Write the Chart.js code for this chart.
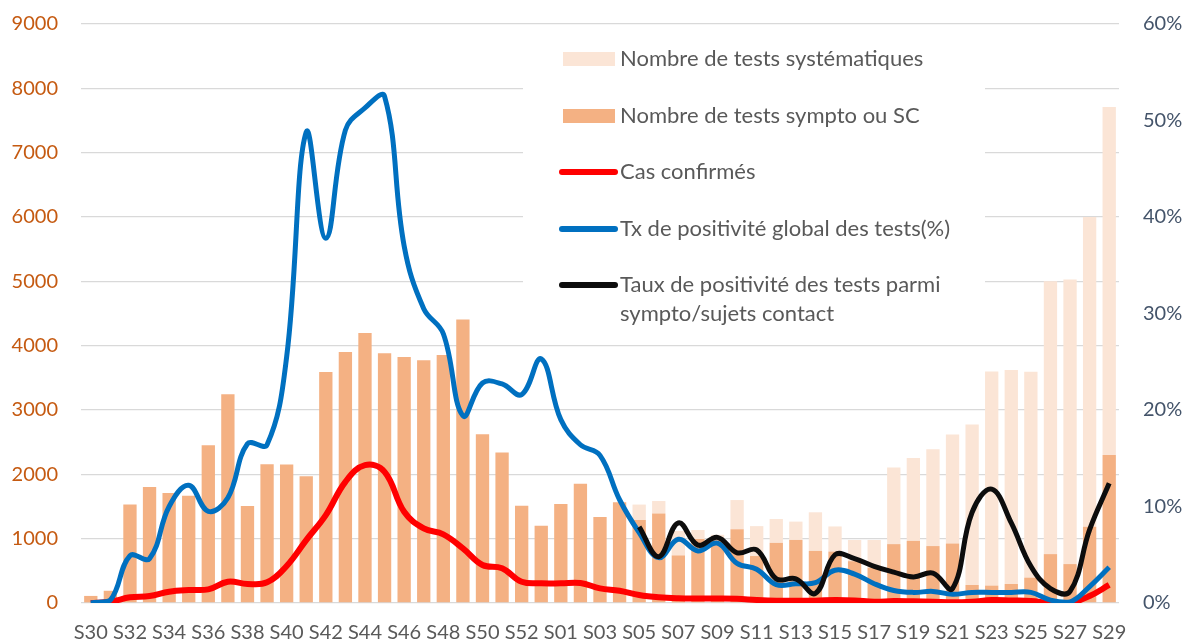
<!DOCTYPE html>
<html><head><meta charset="utf-8">
<script src="https://cdn.jsdelivr.net/npm/chart.js@4.4.1/dist/chart.umd.min.js"></script>
<style>html,body{margin:0;padding:0;background:#fff;overflow:hidden}</style>
</head><body>
<canvas id="c" width="1191" height="644"></canvas>
<script>
const weeks = ['S30','S31','S32','S33','S34','S35','S36','S37','S38','S39','S40','S41','S42','S43','S44','S45','S46','S47','S48','S49','S50','S51','S52','S53',
  'S01','S02','S03','S04','S05','S06','S07','S08','S09','S10','S11','S12','S13','S14','S15','S16','S17','S18','S19','S20','S21','S22','S23','S24','S25','S26','S27','S28','S29'];

const testsSympto = [110,190,1530,1805,1708,1666,2453,3245,1506,2158,2154,1972,3592,3903,4197,3882,3825,3773,3855,4405,2624,2340,1511,1200,
  1537,1853,1335,1568,1290,1390,740,995,1000,1145,730,935,980,810,800,650,550,915,965,885,925,280,270,295,395,760,605,1185,2300];

const testsSystematiques = [0,0,0,0,0,0,0,0,0,0,0,0,0,0,0,0,0,0,0,0,0,0,0,0,
  0,0,0,0,240,195,380,140,60,455,465,370,285,600,390,330,430,1190,1290,1505,1695,2495,3330,3325,3200,4240,4425,4815,5410];

const casConfirmes = [0,20,88,108,176,202,212,331,295,321,575,978,1366,1884,2143,2039,1418,1160,1067,849,590,539,331,306,
  306,311,228,191,124,88,73,70,70,65,47,36,36,36,47,40,20,30,26,20,10,20,47,40,30,0,0,108,280];

const txPositiviteGlobal = [0,0.3,4.9,4.6,10.0,12.2,9.5,10.9,16.5,16.4,25.5,48.8,37.8,49.0,51.3,52.5,37.0,30.5,27.9,19.4,22.8,22.7,21.6,25.3,
  19.0,16.4,15.3,10.7,7.3,4.7,6.6,5.4,6.2,4.1,3.5,1.9,2.0,2.1,3.4,3.0,2.0,1.3,1.1,1.2,0.9,1.1,1.1,1.1,1.1,0.3,0.1,1.7,3.7];

const txPositiviteSympto = [null,null,null,null,null,null,null,null,null,null,null,null,null,null,null,null,null,null,null,null,null,null,null,null,
  null,null,null,null,7.9,4.8,8.3,6.0,6.8,5.2,5.5,2.5,2.5,1.0,5.0,4.6,3.8,3.2,2.7,3.1,1.5,9.4,11.8,8.3,3.8,1.5,1.2,7.6,12.4];

const leftTicksColor = '#C55A11';
const rightTicksColor = '#44546A';
const textColor = '#595959';
const FONT = 'Lato';

const legendPlugin = {
  id: 'customLegend',
  beforeDatasetsDraw(chart) {
    const ctx = chart.ctx;
    ctx.save();
    ctx.fillStyle = '#ffffff';
    ctx.fillRect(523, 33, 462, 302);
    ctx.restore();
  },
  afterDatasetsDraw(chart) {
    const ctx = chart.ctx;
    const ds = chart.data.datasets;
    const rows = [
      {i: 4, kind: 'box', y: 59},
      {i: 3, kind: 'box', y: 116},
      {i: 0, kind: 'line', y: 172},
      {i: 1, kind: 'line', y: 229},
      {i: 2, kind: 'line', y: 285}
    ];
    ctx.save();
    ctx.font = '22px ' + FONT;
    ctx.textBaseline = 'middle';
    ctx.textAlign = 'left';
    rows.forEach(r => {
      const d = ds[r.i];
      if (r.kind === 'box') {
        ctx.fillStyle = d.backgroundColor;
        ctx.fillRect(563, r.y - 7, 52, 14);
      } else {
        ctx.strokeStyle = d.borderColor;
        ctx.lineWidth = 6;
        ctx.lineCap = 'round';
        ctx.beginPath();
        ctx.moveTo(562, r.y);
        ctx.lineTo(615, r.y);
        ctx.stroke();
      }
      ctx.fillStyle = textColor;
      const lines = Array.isArray(d.label) ? d.label : [d.label];
      lines.forEach((t, k) => ctx.fillText(t, 620, r.y + k * 29));
    });
    ctx.restore();
  }
};

new Chart(document.getElementById('c'), {
  data: {
    labels: weeks,
    datasets: [
      {type: 'line', label: 'Cas confirmés', data: casConfirmes, yAxisID: 'y', stack: 'cas',
       borderColor: '#FF0000', backgroundColor: '#FF0000', borderWidth: 6, pointRadius: 0, tension: 0.4, order: 3},
      {type: 'line', label: 'Tx de positivité global des tests(%)', data: txPositiviteGlobal, yAxisID: 'y1',
       borderColor: '#0070C0', backgroundColor: '#0070C0', borderWidth: 5, pointRadius: 0, tension: 0.4, order: 2},
      {type: 'line', label: ['Taux de positivité des tests parmi', 'sympto/sujets contact'], data: txPositiviteSympto, yAxisID: 'y1',
       borderColor: '#0D0D0D', backgroundColor: '#0D0D0D', borderWidth: 5, pointRadius: 0, tension: 0.4, order: 1},
      {type: 'bar', label: 'Nombre de tests sympto ou SC', data: testsSympto, yAxisID: 'y', stack: 'tests',
       backgroundColor: '#F4B183', barPercentage: 0.68, categoryPercentage: 1, order: 4},
      {type: 'bar', label: 'Nombre de tests systématiques', data: testsSystematiques, yAxisID: 'y', stack: 'tests',
       backgroundColor: '#FBE5D6', barPercentage: 0.68, categoryPercentage: 1, order: 5}
    ]
  },
  options: {
    responsive: false,
    animation: false,
    devicePixelRatio: 1,
    layout: {padding: {top: 24, left: 0, right: 0, bottom: 0}},
    plugins: {legend: {display: false}, tooltip: {enabled: false}},
    scales: {
      x: {
        stacked: true,
        grid: {display: false, drawTicks: false},
        border: {display: false},
        ticks: {
          autoSkip: false, maxRotation: 0, minRotation: 0, padding: 18,
          color: textColor, font: {family: FONT, size: 20},
          callback: function(v, i) { return i % 2 === 0 ? this.getLabelForValue(v) : ''; }
        },
        afterFit(s) { s.height = 41; s.paddingLeft = 0; s.paddingRight = 0; }
      },
      y: {
        position: 'left', stacked: true, min: 0, max: 9000,
        grid: {color: '#D9D9D9', lineWidth: 1.3, drawTicks: false},
        border: {display: false},
        ticks: {stepSize: 1000, padding: 23, color: leftTicksColor, font: {family: FONT, size: 20},
          callback: v => String(v)},
        afterFit(s) { s.width = 81; s.paddingTop = 12; s.paddingBottom = 12; }
      },
      y1: {
        position: 'right', min: 0, max: 60,
        grid: {display: false, drawTicks: false},
        border: {display: false},
        ticks: {stepSize: 10, padding: 24, color: rightTicksColor, font: {family: FONT, size: 20},
          callback: v => v + '%'},
        afterFit(s) { s.width = 72; s.paddingTop = 12; s.paddingBottom = 12; }
      }
    }
  },
  plugins: [legendPlugin]
});
</script>
</body></html>
